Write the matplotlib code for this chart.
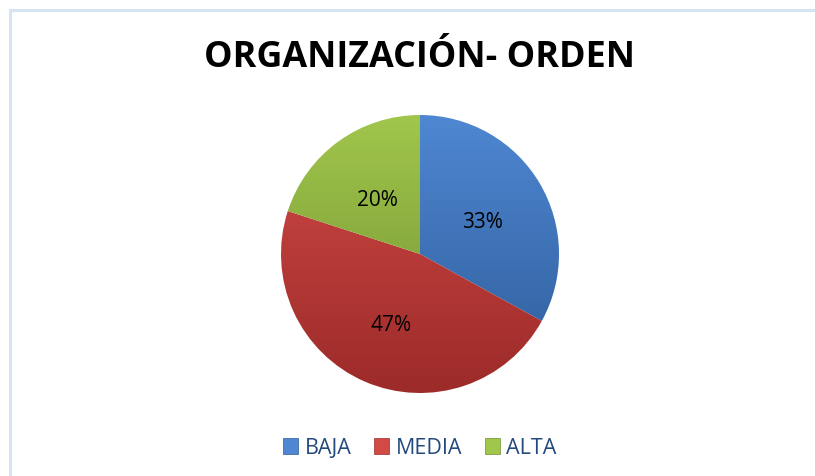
import numpy as np
import matplotlib.pyplot as plt
from matplotlib.colors import LinearSegmentedColormap
from matplotlib.lines import Line2D
from matplotlib.patches import Patch

TITLE = "ORGANIZACIÓN- ORDEN"
categories = ["BAJA", "MEDIA", "ALTA"]
values = [33, 47, 20]
# light (top) -> dark (bottom) for the Excel-like gradient fill
col_light = ["#4F87D2", "#D24A46", "#A1C64C"]
col_dark = ["#2D5C99", "#9C2B29", "#6F8F30"]

W, H = 815, 477
fig = plt.figure(figsize=(W / 100, H / 100), dpi=100)
fig.patch.set_facecolor("white")

# chart area border (top and left edges visible)
fig.add_artist(Line2D([10 / W, 1], [1 - 11 / H, 1 - 11 / H], color="#D5E3F3", lw=2.2))
fig.add_artist(Line2D([10 / W, 10 / W], [0, 1 - 11 / H], color="#D5E3F3", lw=2.2))

fig.text(420 / W, 1 - 58 / H, TITLE, ha="center", va="center",
         fontsize=25.8, fontweight="bold", family="Open Sans", color="black")

cx, cy, r = 420, 255, 139
ax = fig.add_axes([(cx - r) / W, (H - cy - r) / H, 2 * r / W, 2 * r / H])

wedges, texts, autotexts = ax.pie(values, startangle=90, counterclock=False,
                                  autopct="%1.0f%%", pctdistance=0.52,
                                  radius=1.0, colors=col_light,
                                  textprops=dict(fontsize=15, family="Open Sans", color="black"))
ax.set_xlim(-1, 1)
ax.set_ylim(-1, 1)
ax.set_aspect("equal")
ax.axis("off")

grad = np.linspace(0, 1, 256).reshape(-1, 1)
for w, c0, c1 in zip(wedges, col_light, col_dark):
    cmap = LinearSegmentedColormap.from_list("g", [c0, c1])
    w.set_facecolor("none")
    w.set_edgecolor("none")
    im = ax.imshow(grad, cmap=cmap, extent=[-1, 1, -1, 1], origin="upper",
                   aspect="auto", zorder=0.5)
    im.set_clip_path(w)
for t in autotexts:
    t.set_zorder(3)
    x, y = t.get_position()
    t.set_position((x, y - 0.03))

handles = [Patch(facecolor=col_light[i], edgecolor=col_dark[i], lw=0.5) for i in range(3)]
fig.legend(handles, categories, loc="center", bbox_to_anchor=(420 / W, 1 - 449 / H),
           ncol=3, frameon=False, handlelength=0.7, handleheight=0.7,
           handletextpad=0.3, columnspacing=1.05,
           prop=dict(family="Open Sans", size=15.5), labelcolor="#24497C")

fig.savefig("out.png", dpi=100)
